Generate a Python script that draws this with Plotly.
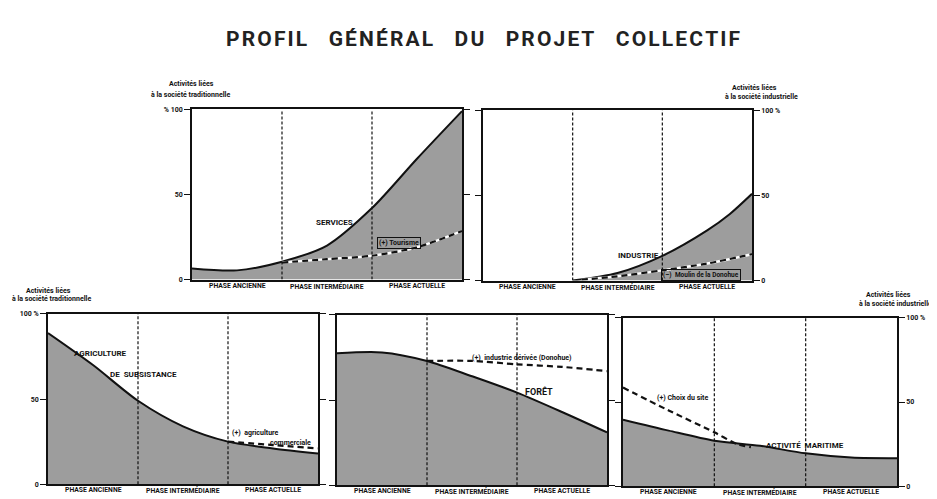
import plotly.graph_objects as go

# page body adds an 8px margin; figure is sized/offset to compensate
PAGE_W, PAGE_H = 937, 499
OFF = 8
W, H = PAGE_W - OFF, PAGE_H - OFF
FONT = "Roboto"

phase_labels = ["PHASE ANCIENNE", "PHASE INTERMÉDIAIRE", "PHASE ACTUELLE"]
phase_centers = [0.5, 1.5, 2.5]
phase_bounds = [1, 2]

x_pts = [0, 0.5, 1, 1.5, 2, 2.5, 3]

services = [6.5, 5.4, 10.5, 20, 42, 71, 99]
tourisme_x = [1, 1.5, 2, 2.5, 3]
tourisme = [10, 12, 14, 19, 28.5]

industrie_x = [1, 1.5, 2, 2.5, 2.75, 3]
industrie = [0, 4.4, 14.5, 29.5, 39, 51]
moulin_x = [1.1, 1.5, 2, 2.5, 3]
moulin = [0.5, 2.5, 6, 10, 15.5]

agriculture = [88.8, 70, 49, 34, 25, 21, 18]
agri_com_x = [2, 2.5, 3]
agri_com = [25, 23, 21]

foret = [77.5, 78, 73, 64, 54.4, 43, 31]
derivee_x = [1, 1.5, 2, 2.5, 3]
derivee = [73, 73, 71, 69.5, 67]

maritime = [39.5, 33, 27, 24, 19.5, 17, 16.6]
choix_x = [0, 0.5, 1, 1.25, 1.4]
choix = [58.6, 45, 32, 25, 23.2]

FILL = "#9d9d9d"

# panel pixel boxes in page pixels: (left, right, top, bottom)
panels = {
    1: (192, 462, 107, 280),
    2: (483, 752, 108, 281),
    3: (48, 318, 315, 488),
    4: (337, 607, 316, 489),
    5: (623, 897, 319, 490),
}
label_side = {1: "left", 2: "right", 3: "left", 4: None, 5: "right"}

def px(x):
    return (x - OFF) / W

def py(y):
    return 1 - (y - OFF) / H

fig = go.Figure()

def ax(n):
    return ("x" if n == 1 else f"x{n}"), ("y" if n == 1 else f"y{n}")

def add_area(n, xs, ys):
    xa, ya = ax(n)
    fig.add_trace(go.Scatter(x=xs, y=ys, xaxis=xa, yaxis=ya, mode="lines",
                             line=dict(color="#111", width=2, shape="spline", smoothing=0.8),
                             fill="tozeroy", fillcolor=FILL, hoverinfo="skip"))

def add_dash(n, xs, ys, white_under=False):
    xa, ya = ax(n)
    if white_under:
        fig.add_trace(go.Scatter(x=xs, y=ys, xaxis=xa, yaxis=ya, mode="lines",
                                 line=dict(color="white", width=2.4, shape="spline", smoothing=0.8),
                                 hoverinfo="skip"))
    fig.add_trace(go.Scatter(x=xs, y=ys, xaxis=xa, yaxis=ya, mode="lines",
                             line=dict(color="#111", width=2.2, dash="6px,4px", shape="spline", smoothing=0.8),
                             hoverinfo="skip"))

add_area(1, x_pts, services)
add_dash(1, tourisme_x, tourisme, True)
add_area(2, industrie_x, industrie)
add_dash(2, moulin_x, moulin, True)
add_area(3, x_pts, agriculture)
add_dash(3, agri_com_x, agri_com)
add_area(4, x_pts, foret)
add_dash(4, derivee_x, derivee)
add_area(5, x_pts, maritime)
add_dash(5, choix_x, choix)

layout = dict(
    width=W, height=H, margin=dict(l=0, r=0, t=0, b=0),
    paper_bgcolor="#ffffff", plot_bgcolor="rgba(0,0,0,0)", showlegend=False,
    font=dict(family=FONT, color="#111"),
)

for n, (l, r, t, b) in panels.items():
    key = "" if n == 1 else str(n)
    xa, ya = ax(n)
    layout["xaxis" + key] = dict(
        domain=[px(l), px(r)], range=[0, 3], anchor=ya,
        showgrid=False, zeroline=False, showline=True, linecolor="#111", linewidth=1.6,
        mirror=True, showticklabels=False, ticks="", fixedrange=True,
    )
    tt = ["0", "50", "% 100"] if n == 1 else ["0", "50", "100 %"]
    side = label_side[n]
    layout["yaxis" + key] = dict(
        domain=[py(b), py(t)], range=[0, 100], anchor=xa,
        showgrid=False, zeroline=False, showline=True, linecolor="#111", linewidth=1.6,
        mirror="ticks", tickvals=[0, 50, 100], ticktext=tt, ticks="outside", ticklen=6,
        tickcolor="#111", tickwidth=1.2,
        side=side if side else "left", showticklabels=side is not None,
        tickfont=dict(size=7, family=FONT, color="#111", weight="bold"),
        fixedrange=True,
    )
    for xb in phase_bounds:
        fig.add_shape(type="line", xref=xa, yref=ya, x0=xb, x1=xb, y0=0, y1=100,
                      line=dict(color="#111", width=1.2, dash="3px,2px"), layer="above")
    for xc, txt in zip(phase_centers, phase_labels):
        fig.add_annotation(x=xc, y=0, xref=xa, yref=ya, text=txt, showarrow=False,
                           yanchor="top", yshift=-1, borderpad=0,
                           font=dict(size=6.8, family=FONT, color="#111", weight="bold"))

fig.update_layout(**layout)

def lab(n, x, y, text, size=8, box=False, weight="bold"):
    xa, ya = ax(n)
    fig.add_annotation(x=x, y=y, xref=xa, yref=ya, text=text, showarrow=False,
                       font=dict(size=size, family=FONT, color="#111", weight=weight),
                       bordercolor="#111" if box else None, borderwidth=1 if box else 0,
                       borderpad=1)

lab(1, 1.58, 33.5, "SERVICES")
lab(1, 2.3, 21.4, "(+) Tourisme", size=7, box=True)
lab(2, 1.73, 15, "INDUSTRIE")
lab(2, 2.43, 3.0, "(–)  Moulin de la Donohue", size=6.5, box=True)
lab(3, 0.58, 76.9, "AGRICULTURE")
lab(3, 1.06, 64.7, "DE  SUBSISTANCE")
lab(3, 2.31, 30, "(+)  agriculture", size=7)
lab(3, 2.69, 24.3, "commerciale", size=7)
lab(4, 2.06, 75, "(+)  industrie dérivée (Donohue)", size=7)
lab(4, 2.24, 55, "FORÊT", size=9)
lab(5, 0.65, 52.6, "(+) Choix du site", size=7)
lab(5, 1.99, 24, "ACTIVITÉ  MARITIME")

def plab(x, y, text, size=7, anchor="center"):
    fig.add_annotation(x=px(x), y=py(y), xref="paper", yref="paper", text=text,
                       showarrow=False, xanchor=anchor, yanchor="middle", borderpad=0,
                       font=dict(size=size, family=FONT, color="#111", weight="bold"))

plab(191, 81, "Activités liées")
plab(190, 92, "à la société traditionnelle")
plab(778, 85, "Activités liées", anchor="right")
plab(799, 94, "à la société industrielle", anchor="right")
plab(48, 292, "Activités liées")
plab(51, 300, "à la société traditionnelle")
plab(912, 296, "Activités liées", anchor="right")
plab(935, 305, "à la société industrielle.", anchor="right")

title_words = ["PROFIL", "GÉNÉRAL", "DU", "PROJET", "COLLECTIF"]
title = "\u2003".join("\u200a".join(w) for w in title_words)
fig.add_annotation(x=px(484), y=py(35), xref="paper", yref="paper", text=title,
                   xanchor="center", yanchor="middle",
                   showarrow=False, font=dict(size=21, family=FONT, color="#222", weight="bold"))

fig.write_html("out.html")
